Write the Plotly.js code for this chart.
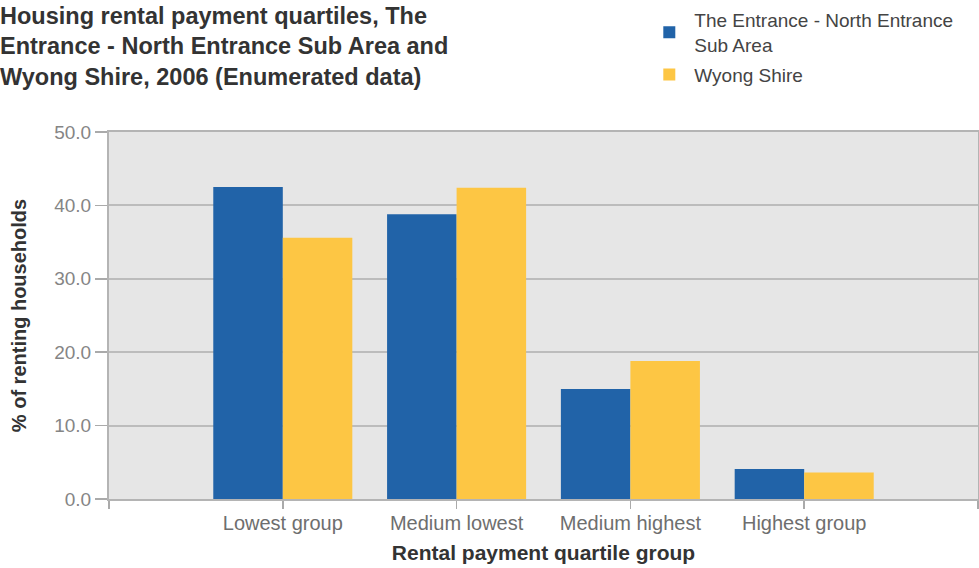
<!DOCTYPE html>
<html>
<head>
<meta charset="utf-8">
<script src="https://cdn.plot.ly/plotly-3.0.1.min.js"></script>
<style>
html,body{margin:0;padding:0;background:#fff;}
#chart{width:979px;height:568px;}
</style>
</head>
<body>
<div id="chart"></div>
<script>
var categories = ["Lowest group", "Medium lowest", "Medium highest", "Highest group"];
var seriesNames = ["The Entrance - North Entrance<br>Sub Area", "Wyong Shire"];
var entranceValues = [42.5, 38.8, 15.0, 4.1];
var wyongValues = [35.6, 42.4, 18.8, 3.6];
var yTickValues = [0, 10, 20, 30, 40, 50];
var yTickLabels = ["0.0", "10.0", "20.0", "30.0", "40.0", "50.0"];

var xPos = categories.map(function(c, i){ return i; });
var xTickVals = [-1].concat(xPos).concat([categories.length]);
var xTickText = [""].concat(categories).concat([""]);

var traces = [
  {type: "bar", name: seriesNames[0], x: xPos, y: entranceValues, legendgroup: "a",
   marker: {color: "#2163a8", line: {width: 0}}, hoverinfo: "y"},
  {type: "bar", name: seriesNames[1], x: xPos, y: wyongValues, legendgroup: "b",
   marker: {color: "#fdc644", line: {width: 0}}, hoverinfo: "y"}
];

var layout = {
  width: 979, height: 568,
  paper_bgcolor: "#ffffff",
  plot_bgcolor: "#e6e6e6",
  font: {family: "Liberation Sans, Arial, sans-serif", color: "#555"},
  margin: {l: 109, r: 1, t: 132, b: 69, pad: 0},
  barmode: "group",
  bargap: 0.2,
  bargroupgap: 0,
  showlegend: true,
  title: {
    text: "Housing rental payment quartiles, The<br>Entrance - North Entrance Sub Area and<br>Wyong Shire, 2006 (Enumerated data)",
    x: 0, xref: "container", xanchor: "left",
    y: 0.958, yref: "container", yanchor: "top",
    font: {family: "Liberation Sans, Arial, sans-serif", size: 23.5, color: "#333", weight: "bold"}
  },
  legend: {
    x: 0.616, xanchor: "left", y: 0.998, yref: "container", yanchor: "top",
    font: {family: "Liberation Sans, Arial, sans-serif", size: 19, color: "#444"},
    bgcolor: "rgba(0,0,0,0)", tracegroupgap: 2, itemwidth: 40
  },
  xaxis: {
    range: [-1, categories.length],
    tickmode: "array", tickvals: xTickVals, ticktext: xTickText,
    ticks: "outside", ticklen: 8, tickwidth: 1.5, tickcolor: "#aaaaaa",
    ticklabelstandoff: -3,
    showgrid: false, zeroline: false,
    showline: true, linecolor: "#b4b4b4", linewidth: 2, mirror: true,
    tickfont: {size: 20, color: "#6e6e6e"},
    title: {text: "Rental payment quartile group", standoff: 12,
            font: {size: 21, color: "#333", weight: "bold"}},
    fixedrange: true
  },
  yaxis: {
    range: [0, 50],
    tickmode: "array", tickvals: yTickValues, ticktext: yTickLabels,
    ticks: "outside", ticklen: 12, tickwidth: 1.5, tickcolor: "#aaaaaa",
    showgrid: true, gridcolor: "#bcbcbc", gridwidth: 2,
    zeroline: false,
    showline: true, linecolor: "#b4b4b4", linewidth: 2, mirror: true,
    tickfont: {size: 19, color: "#858585"},
    title: {text: "% of renting households", standoff: 22,
            font: {size: 20, color: "#333", weight: "bold"}},
    fixedrange: true
  }
};

Plotly.newPlot("chart", traces, layout, {displayModeBar: false, staticPlot: true});
</script>
</body>
</html>
